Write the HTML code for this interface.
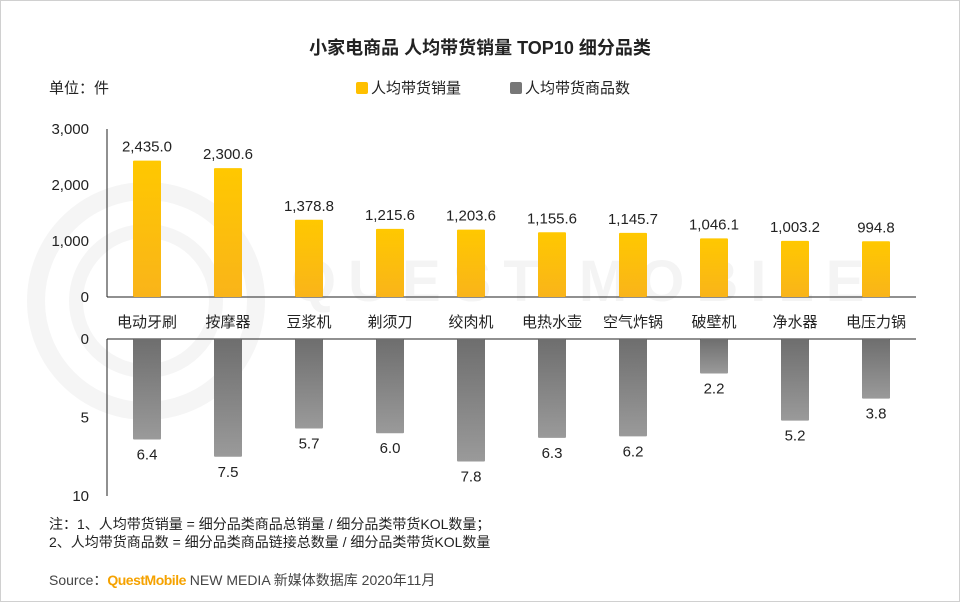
<!DOCTYPE html>
<html><head><meta charset="utf-8"><style>
body{margin:0;background:#fff;}
#wrap{position:relative;width:958px;height:600px;border:1px solid #d0d0d0;overflow:hidden;font-family:"Liberation Sans","Noto Sans CJK SC",sans-serif;color:#222;}
.t{position:absolute;white-space:nowrap;}
</style></head><body>
<div id="wrap">
<svg width="958" height="600" style="position:absolute;left:0;top:0">
<circle cx="145" cy="300" r="110" fill="none" stroke="#f5f5f5" stroke-width="18"/>
<circle cx="145" cy="300" r="70" fill="none" stroke="#f5f5f5" stroke-width="14"/>
<text x="290" y="300" font-size="58" fill="#f4f4f4" font-family="Liberation Sans" letter-spacing="12" font-weight="bold">QUEST MOBILE</text>
</svg>
<div class="t" style="left:0;width:958px;text-align:center;top:33px;font-size:18px;font-weight:bold">小家电商品 人均带货销量 TOP10 细分品类</div>
<div class="t" style="left:48px;top:76px;font-size:15px">单位：件</div>
<div class="t" style="left:355px;top:76px;font-size:15px"><span style="display:inline-block;width:12px;height:12px;background:#ffc000;border-radius:2px;vertical-align:-1px;margin-right:3px"></span>人均带货销量</div>
<div class="t" style="left:509px;top:76px;font-size:15px"><span style="display:inline-block;width:12px;height:12px;background:#777;border-radius:2px;vertical-align:-1px;margin-right:3px"></span>人均带货商品数</div>
<svg id="c" width="958" height="600" style="position:absolute;left:0;top:0">
<defs>
<linearGradient id="gy" x1="0" y1="0" x2="0" y2="1"><stop offset="0" stop-color="#ffc800"/><stop offset="1" stop-color="#f9b41a"/></linearGradient>
<linearGradient id="gg" x1="0" y1="0" x2="0" y2="1"><stop offset="0" stop-color="#6e6e6e"/><stop offset="1" stop-color="#9a9a9a"/></linearGradient>
</defs>
</svg>
<div class="t" style="left:48px;top:514px;font-size:14px;line-height:18px">注：1、人均带货销量 = 细分品类商品总销量 / 细分品类带货KOL数量；<br>2、人均带货商品数 = 细分品类商品链接总数量 / 细分品类带货KOL数量</div>
<div class="t" style="left:48px;top:569px;font-size:14px;color:#444">Source：<span style="color:#f5a200;font-weight:bold;letter-spacing:-0.5px">QuestMobile</span> NEW MEDIA 新媒体数据库 2020年11月</div>
</div>
<script>
const categories=["电动牙刷","按摩器","豆浆机","剃须刀","绞肉机","电热水壶","空气炸锅","破壁机","净水器","电压力锅"];
const sales=[2435.0,2300.6,1378.8,1215.6,1203.6,1155.6,1145.7,1046.1,1003.2,994.8];
const products=[6.4,7.5,5.7,6.0,7.8,6.3,6.2,2.2,5.2,3.8];
const topTicks=[0,1000,2000,3000];
const botTicks=[0,5,10];
const svg=document.getElementById('c');const NS='http://www.w3.org/2000/svg';
function mk(t,a,txt){const e=document.createElementNS(NS,t);for(const k in a)e.setAttribute(k,a[k]);if(txt!=null)e.textContent=txt;svg.appendChild(e);return e;}
const x0=106,x1=915,bw=28;
const xc=i=>146+i*81;
const yTop=v=>296-v/3000*168;
const yBot=v=>338+v/10*157;
mk('line',{x1:x0,y1:128,x2:x0,y2:296,stroke:'#222'});
mk('line',{x1:x0,y1:296,x2:x1,y2:296,stroke:'#222'});
mk('line',{x1:x0,y1:338,x2:x0,y2:495,stroke:'#222'});
mk('line',{x1:x0,y1:338,x2:x1,y2:338,stroke:'#222'});
topTicks.forEach(v=>{const e=mk('text',{x:88,y:yTop(v)+5,'text-anchor':'end','font-size':15,fill:'#222','font-family':'Liberation Sans'},v.toLocaleString('en-US'));

});
botTicks.forEach(v=>{const e=mk('text',{x:88,y:yBot(v)+5,'text-anchor':'end','font-size':15,fill:'#222','font-family':'Liberation Sans'},String(v));

});
categories.forEach((c,i)=>{
const e=mk('text',{x:xc(i),y:326,'text-anchor':'middle','font-size':15,fill:'#222','font-family':'Liberation Sans,Noto Sans CJK SC,sans-serif'},c);


const yt=yTop(sales[i]);
const b=mk('rect',{x:xc(i)-bw/2,y:yt,width:bw,height:296-yt,fill:'url(#gy)',rx:1});


const l=mk('text',{x:xc(i),y:yt-9,'text-anchor':'middle','font-size':15,fill:'#222','font-family':'Liberation Sans'},sales[i].toLocaleString('en-US',{minimumFractionDigits:1,maximumFractionDigits:1}));


const yb=yBot(products[i]);
const g=mk('rect',{x:xc(i)-bw/2,y:338,width:bw,height:yb-338,fill:'url(#gg)',rx:1});


const m=mk('text',{x:xc(i),y:yb+20,'text-anchor':'middle','font-size':15,fill:'#222','font-family':'Liberation Sans'},products[i].toFixed(1));


});
</script>
</body></html>
